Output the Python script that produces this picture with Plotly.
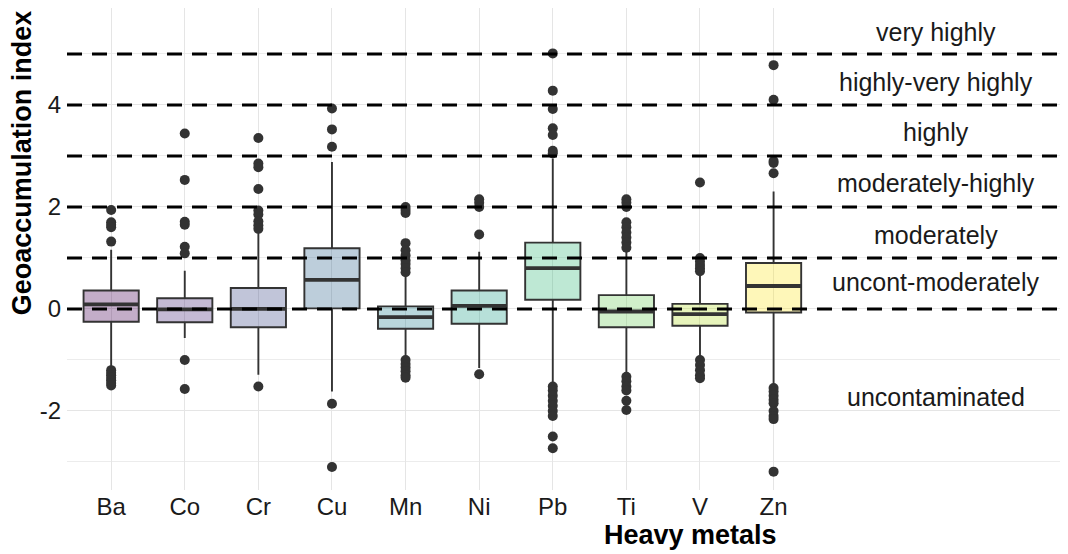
import plotly.graph_objects as go

# ---------------- data ----------------
metals = ["Ba", "Co", "Cr", "Cu", "Mn", "Ni", "Pb", "Ti", "V", "Zn"]
q1_vals = [-0.25, -0.26, -0.36, 0.01, -0.39, -0.29, 0.18, -0.36, -0.33, -0.07]
median_vals = [0.09, -0.01, 0.00, 0.57, -0.16, 0.06, 0.80, -0.05, -0.10, 0.45]
q3_vals = [0.36, 0.21, 0.41, 1.19, 0.05, 0.36, 1.30, 0.27, 0.10, 0.90]
lower_whisker = [-1.13, -0.57, -1.29, -1.62, -0.97, -1.16, -1.49, -1.29, -0.97, -1.49]
upper_whisker = [1.16, 0.75, 1.49, 2.88, 0.63, 1.12, 2.95, 1.16, 0.70, 2.30]

outliers = {
    "Ba": [1.94, 1.70, 1.65, 1.60, 1.32, -1.20, -1.25, -1.30, -1.35, -1.40, -1.45, -1.50],
    "Co": [3.44, 2.53, 1.71, 1.65, 1.22, 1.09, -1.00, -1.57],
    "Cr": [3.35, 2.85, 2.78, 2.35, 1.93, 1.85, 1.72, 1.64, 1.57, -1.52],
    "Cu": [3.93, 3.52, 3.18, -1.86, -3.10],
    "Mn": [2.00, 1.94, 1.88, 1.29, 1.15, 1.05, 0.95, 0.88, 0.80, 0.72,
           -1.00, -1.08, -1.15, -1.22, -1.30, -1.35],
    "Ni": [2.15, 2.08, 2.00, 1.46, -1.28],
    "Pb": [5.01, 4.28, 3.92, 3.54, 3.41, 3.10, 3.05,
           -1.52, -1.60, -1.70, -1.80, -1.90, -2.00, -2.10, -2.50, -2.73],
    "Ti": [2.15, 2.08, 2.00, 1.70, 1.60, 1.50, 1.40, 1.30, 1.20,
           -1.33, -1.42, -1.52, -1.60, -1.80, -1.98],
    "V": [2.48, 1.00, 0.93, 0.86, 0.80, 0.74, -1.00, -1.10, -1.20, -1.30, -1.36],
    "Zn": [4.78, 4.10, 2.90, 2.86, 2.66, -1.55, -1.62, -1.70, -1.78, -1.85,
           -2.00, -2.10, -2.16, -3.19],
}

class_limits = [0, 1, 2, 3, 4, 5]
class_labels = ["very highly", "highly-very highly", "highly", "moderately-highly",
                "moderately", "uncont-moderately", "uncontaminated"]
class_label_y = [5.43, 4.45, 3.47, 2.47, 1.45, 0.53, -1.73]

# ---------------- style ----------------
viridis = [(68, 1, 84), (72, 40, 120), (62, 74, 137), (49, 104, 142), (38, 130, 142),
           (31, 158, 137), (53, 183, 121), (109, 205, 89), (180, 222, 44), (253, 231, 37)]
alpha = 0.32
dark = "#333333"
font_family = "Liberation Sans, Arial, sans-serif"
box_w = 0.75

fig = go.Figure()

for i, m in enumerate(metals):
    xi = i + 1
    r, g, b = viridis[i]
    fig.add_trace(go.Box(
        x=[xi], q1=[q1_vals[i]], median=[median_vals[i]], q3=[q3_vals[i]],
        lowerfence=[lower_whisker[i]], upperfence=[upper_whisker[i]],
        width=box_w, whiskerwidth=0, fillcolor=f"rgba({r},{g},{b},{alpha})",
        line=dict(color=dark, width=1.9), boxpoints=False,
        showlegend=False, hoverinfo="skip",
    ))

# thick median bars (ggplot style)
mx, my = [], []
for i, m in enumerate(metals):
    xi = i + 1
    mx += [xi - box_w / 2, xi + box_w / 2, None]
    my += [median_vals[i], median_vals[i], None]
fig.add_trace(go.Scatter(x=mx, y=my, mode="lines",
                         line=dict(color=dark, width=3.8),
                         showlegend=False, hoverinfo="skip"))

# outliers
ox, oy = [], []
for i, m in enumerate(metals):
    ox += [i + 1] * len(outliers[m])
    oy += outliers[m]
fig.add_trace(go.Scatter(x=ox, y=oy, mode="markers",
                         marker=dict(color=dark, size=10, line=dict(width=0)),
                         showlegend=False, hoverinfo="skip"))

# class limit dashed lines
for v in class_limits:
    fig.add_shape(type="line", xref="paper", x0=0, x1=1, yref="y", y0=v, y1=v,
                  line=dict(color="black", width=3, dash="15px,10px"), layer="above")

# class labels
for txt, yv in zip(class_labels, class_label_y):
    fig.add_annotation(x=12.2, y=yv, xref="x", yref="y", text=txt, showarrow=False,
                       font=dict(size=25, color="#1a1a1a", family=font_family),
                       xanchor="center", yanchor="middle")

# axis titles
fig.add_annotation(x=0.623, y=-0.093, xref="paper", yref="paper", text="<b>Heavy metals</b>",
                   showarrow=False, font=dict(size=27, color="black", family=font_family),
                   xanchor="center", yanchor="middle")
fig.add_annotation(x=-0.045, y=0.68, xref="paper", yref="paper",
                   text="<b>Geoaccumulation index</b>", textangle=-90,
                   showarrow=False, font=dict(size=27, color="black", family=font_family),
                   xanchor="center", yanchor="middle")

fig.update_layout(
    width=1060, height=546,
    margin=dict(l=59, r=0, t=0, b=64, autoexpand=False),
    paper_bgcolor="white", plot_bgcolor="white",
    font=dict(family=font_family, color="#1a1a1a"),
    boxmode="overlay",
    xaxis=dict(range=[0.4, 14.0], tickmode="array", tickvals=list(range(1, 11)),
               ticktext=metals, showgrid=True, gridcolor="#e5e5e5", gridwidth=1,
               zeroline=False, showline=False, ticks="", automargin=False,
               tickfont=dict(size=24, color="#1a1a1a")),
    yaxis=dict(range=[-3.55, 5.9], tickmode="array", tickvals=[-2, 0, 2, 4],
               ticktext=["-2", "0", "2", "4"], ticklabelstandoff=5,
               showgrid=True, gridcolor="#e5e5e5", gridwidth=1,
               minor=dict(tickmode="array", tickvals=[-3, -1, 1, 3, 5], showgrid=True,
                          gridcolor="#ececec", gridwidth=1, ticks=""),
               zeroline=False, showline=False, ticks="", automargin=False,
               tickfont=dict(size=24, color="#1a1a1a")),
)

fig.write_html("out.html")
